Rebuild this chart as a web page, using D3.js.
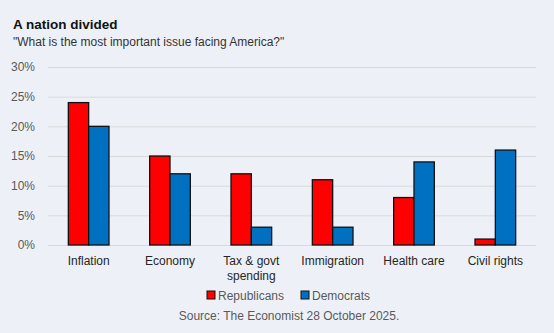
<!DOCTYPE html>
<html lang="en">
  <head>
    <meta charset="UTF-8" />
    <title>A nation divided</title>
    <script src="https://d3js.org/d3.v7.min.js"></script>
    <style>
      body {
        margin: 0;
        font-family: "Liberation Sans", Arial, sans-serif;
      }
      svg {
        display: block;
      }
      .tick line {
        stroke: #d9d9d9;
      }
      .domain {
        display: none;
      }
    </style>
  </head>
  <body>
    <svg id="chart" width="554" height="333"></svg>

    <script>
      const categories = [["Inflation"], ["Economy"], ["Tax & govt", "spending"], ["Immigration"], ["Health care"], ["Civil rights"]];
      const republicans = [24, 15, 12, 11, 8, 1];
      const democrats = [20, 12, 3, 3, 14, 16];
      const yTicks = [0, 5, 10, 15, 20, 25, 30];
      const seriesNames = ["Republicans", "Democrats"];
      const colors = ["#ff0000", "#0070c0"];

      const width = 554;
      const height = 333;
      const margin = { top: 67, right: 18, bottom: 88, left: 48 };

      const svg = d3.select("#chart");

      svg.append("rect").attr("width", width).attr("height", height).attr("fill", "#edf1f7");

      svg.append("text").attr("x", 13).attr("y", 29).attr("font-size", 13.5).attr("font-weight", "bold").attr("fill", "#111").text("A nation divided");
      svg.append("text").attr("x", 13).attr("y", 46).attr("font-size", 12).attr("fill", "#333").text('"What is the most important issue facing America?"');

      const x = d3
        .scaleBand()
        .domain(d3.range(categories.length))
        .range([margin.left, width - margin.right])
        .paddingInner(0.5)
        .paddingOuter(0.25);

      const xSub = d3.scaleBand().domain(seriesNames).range([0, x.bandwidth()]);

      const y = d3
        .scaleLinear()
        .domain([0, 30])
        .range([height - margin.bottom, margin.top]);

      const yAxis = d3
        .axisLeft(y)
        .tickValues(yTicks)
        .tickSize(-(width - margin.left - margin.right))
        .tickPadding(13)
        .tickFormat((d) => d + "%");

      svg
        .append("g")
        .attr("transform", `translate(${margin.left},0)`)
        .call(yAxis)
        .call((g) => g.selectAll("text").attr("font-size", 12).attr("fill", "#595959").attr("font-family", "Liberation Sans, Arial, sans-serif"))
        .call((g) => g.selectAll(".tick line").attr("stroke-width", 1));

      const rows = categories.map((c, i) => ({ i, values: [republicans[i], democrats[i]] }));

      svg
        .append("g")
        .selectAll("g")
        .data(rows)
        .join("g")
        .attr("transform", (d) => `translate(${x(d.i)},0)`)
        .selectAll("rect")
        .data((d) => d.values.map((v, k) => ({ key: seriesNames[k], v, color: colors[k] })))
        .join("rect")
        .attr("x", (d) => xSub(d.key))
        .attr("y", (d) => y(d.v))
        .attr("width", xSub.bandwidth())
        .attr("height", (d) => y(0) - y(d.v))
        .attr("fill", (d) => d.color)
        .attr("stroke", "#111")
        .attr("stroke-width", 1.3);

      const labels = svg
        .append("g")
        .selectAll("text")
        .data(categories)
        .join("text")
        .attr("x", (d, i) => x(i) + x.bandwidth() / 2)
        .attr("y", y(0) + 20)
        .attr("text-anchor", "middle")
        .attr("font-size", 12)
        .attr("fill", "#262626");

      labels
        .selectAll("tspan")
        .data((d) => d)
        .join("tspan")
        .attr("x", function () {
          return this.parentNode.getAttribute("x");
        })
        .attr("dy", (d, j) => (j === 0 ? 0 : 15))
        .text((d) => d);

      const legend = svg.append("g").attr("transform", "translate(207,291)");
      const legendX = [0, 94];
      seriesNames.forEach((name, k) => {
        legend
          .append("rect")
          .attr("x", legendX[k])
          .attr("y", 0)
          .attr("width", 8)
          .attr("height", 8)
          .attr("fill", colors[k])
          .attr("stroke", "#111")
          .attr("stroke-width", 1);
        legend
          .append("text")
          .attr("x", legendX[k] + 11)
          .attr("y", 9)
          .attr("font-size", 12)
          .attr("fill", "#595959")
          .text(name);
      });

      svg
        .append("text")
        .attr("x", 289)
        .attr("y", 320)
        .attr("text-anchor", "middle")
        .attr("font-size", 12)
        .attr("fill", "#595959")
        .text("Source: The Economist  28 October 2025.");
    </script>
  </body>
</html>
